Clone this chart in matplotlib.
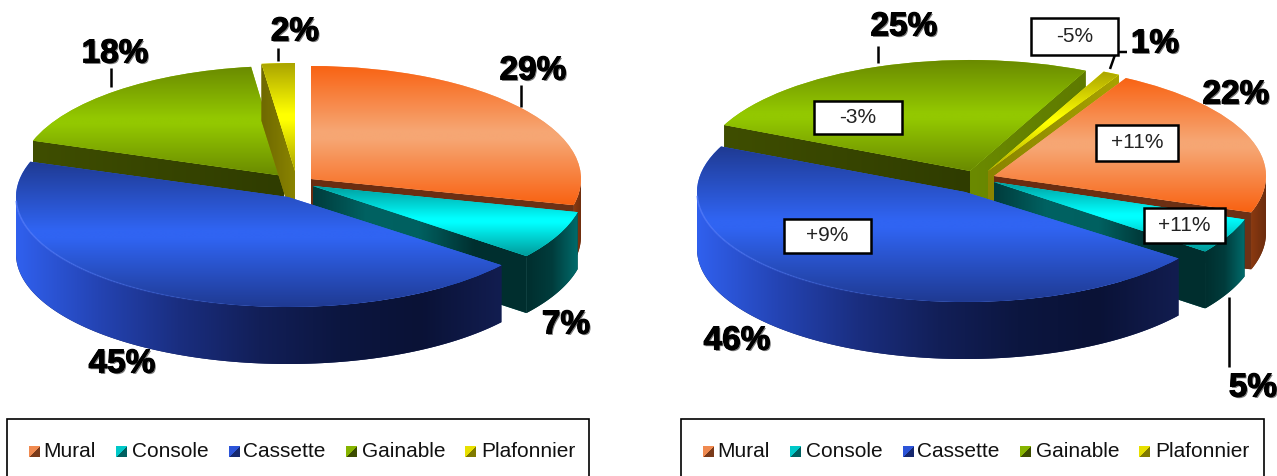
import numpy as np
import matplotlib
matplotlib.use('Agg')
import matplotlib.pyplot as plt
import matplotlib.patheffects as pe
from matplotlib.collections import LineCollection
from matplotlib.colors import LinearSegmentedColormap, to_rgb
from matplotlib.patches import Polygon, Rectangle
from matplotlib.transforms import Affine2D

plt.rcParams['font.family'] = ['Liberation Sans', 'DejaVu Sans']

categories = ['Mural', 'Console', 'Cassette', 'Gainable', 'Plafonnier']
values_left = [29, 7, 45, 18, 2]
values_right = [22, 5, 46, 25, 1]
deltas_right = ['+11%', '+11%', '+9%', '-3%', '-5%']

# top face: edge colour, bright colour
top_colors = [('#f96212', '#f6a673'), ('#009a9a', '#00ffff'), ('#1f3a92', '#3064f2'),
              ('#6a8a00', '#93c800'), ('#aaa400', '#ffff00')]
swatch_colors = [('#f08a50', '#7a3a1a'), ('#00c8c8', '#006060'), ('#2c54d8', '#16286e'),
                 ('#86b400', '#3c4c00'), ('#e8e000', '#807a00')]

DEPTH = 57

# per slice: apex x, apex y, radius x, radius y
geom_left = [(311, 180, 270, 113), (313, 187, 272, 113), (288, 198, 272, 110),
             (284, 177, 265, 110), (295, 172, 270, 108)]
geom_right = [(994, 177, 272, 112), (994, 183, 265, 115), (965, 193, 268, 110),
              (970, 172, 270, 111), (988, 172, 270, 110)]

fig = plt.figure(figsize=(12.77, 4.77), dpi=100)
ax = fig.add_axes([0, 0, 1, 1])


def grad(path_artist, extent, stops, horizontal, z):
    # gradient image clipped to a patch
    cmap = LinearSegmentedColormap.from_list('g', stops)
    arr = np.linspace(0, 1, 256)
    arr = arr.reshape(1, -1) if horizontal else arr.reshape(-1, 1)
    im = ax.imshow(arr, cmap=cmap, extent=extent, aspect='auto', origin='upper',
                   interpolation='bilinear', zorder=z)
    im.set_clip_path(path_artist)
    return im


def wall(points, stops, z):
    # side face: gradient runs left to right over the polygon
    points = np.array(points)
    poly = Polygon(points, closed=True, facecolor=stops[len(stops) // 2][1], edgecolor='none', zorder=z)
    ax.add_patch(poly)
    xmin, xmax = points[:, 0].min(), points[:, 0].max()
    grad(poly, (xmin, xmax, points[:, 1].max(), points[:, 1].min()), stops, True, z + 0.1)


def stops_hex(colors):
    return [(i / (len(colors) - 1), c) for i, c in enumerate(colors)]


def rim_pt(g, th):
    return g[0] + g[2] * np.cos(np.radians(th)), g[1] - g[3] * np.sin(np.radians(th))


# colours of the side faces, per slice
# wall_end: straight edge at the end of the slice going clockwise, wall_start: at its start
wall_end = [['#6b2c10', '#6e3216'], ['#003c3c', '#006262', '#006060', '#003030', '#002e2e'],
            ['#14225c', '#14225c'], ['#6b8a00', '#5e7a00'], ['#8a8400', '#a8a200']]
wall_start = [['#6b2c10', '#6e3216'], ['#003c3c', '#003c3c'], ['#14225c', '#14225c'],
              ['#3f4e00', '#2f3c00'], ['#6e6800', '#8a8400']]
rim_walls = [['#8a3a10', '#6c2c0e'], ['#002e2e', '#003c3c', '#006c6c'],
             ['#3060ee', '#2444b4', '#1a2e80', '#121f58', '#0c1640', '#0a1236', '#121d50'],
             ['#4c5c00', '#4c5c00'], ['#8a8400', '#8a8400']]


def draw_pie(values, geom, start):
    wedges, _ = ax.pie(values, startangle=start, counterclock=False, radius=1,
                       colors=[c[1] for c in top_colors])
    # back slices first so the front ones sit on top of them
    order = [3, 4, 0, 1, 2]
    for n, i in enumerate(order):
        w = wedges[i]
        g = geom[i]
        z = 2 + n * 2
        # faces along the two straight edges, skipped when turned away from the viewer
        if np.cos(np.radians(w.theta2)) < 0:
            px, py = rim_pt(g, w.theta2)
            wall([(g[0], g[1]), (px, py), (px, py + DEPTH), (g[0], g[1] + DEPTH)],
                 stops_hex(wall_start[i]), z)
        if np.cos(np.radians(w.theta1)) > 0:
            px, py = rim_pt(g, w.theta1)
            wall([(g[0], g[1]), (px, py), (px, py + DEPTH), (g[0], g[1] + DEPTH)],
                 stops_hex(wall_end[i]), z + 0.2)
        # curved face, only the part turned to the viewer
        ths = np.linspace(w.theta1, w.theta2, 120)
        ths = ths[np.sin(np.radians(ths)) <= 0.02]
        if len(ths) > 1:
            xs, ys = rim_pt(g, ths)
            pts = list(zip(xs, ys)) + list(zip(xs[::-1], ys[::-1] + DEPTH))
            wall(pts, stops_hex(rim_walls[i]), z + 0.5)
        # top face
        w.set_transform(Affine2D().scale(g[2], -g[3]).translate(g[0], g[1]) + ax.transData)
        w.set_zorder(z + 1)
        box = w.get_path().get_extents(Affine2D().scale(g[2], -g[3]).translate(g[0], g[1]))
        c0, c1 = top_colors[i]
        grad(w, (box.x0, box.x1, box.y1, box.y0),
             [(0, c0), (0.47, c1), (0.53, c1), (1, c0)], False, z + 1.1)
        if i == 2:
            # light line along the front edge of the blue top, fading to the right
            t = np.linspace(182, 262, 40)
            xs, ys = rim_pt(g, t)
            segs = [[(xs[k], ys[k]), (xs[k + 1], ys[k + 1])] for k in range(len(t) - 1)]
            alphas = np.linspace(0.7, 0, len(segs))
            rgba = [(0.35, 0.5, 1, al) for al in alphas]
            ax.add_collection(LineCollection(segs, colors=rgba, linewidths=1.2, zorder=z + 1.2))
    return wedges


draw_pie(values_left, geom_left, 90)
draw_pie(values_right, geom_right, 61)


# big percent labels
def big_label(x, y, s):
    ax.text(x, y + 3, s, fontsize=24, fontweight='bold', color='black', ha='center', va='center', zorder=30,
            path_effects=[pe.withSimplePatchShadow(offset=(1, -1), shadow_rgbFace='#444444', alpha=0.7),
                          pe.withStroke(linewidth=0.8, foreground='black')])


pos_left = [(533, 69), (566, 323), (122, 362), (115, 52), (295, 30)]
pos_right = [(1236, 93), (1253, 386), (737, 339), (904, 25), (1155, 42)]
for v, p in zip(values_left, pos_left):
    big_label(p[0], p[1], '%d%%' % v)
for v, p in zip(values_right, pos_right):
    big_label(p[0], p[1], '%d%%' % v)

# leader lines
leaders = [([521, 521], [86, 108]), ([111, 111], [69, 88]), ([278, 278], [49, 62]),
           ([878, 878], [47, 64]), ([1127, 1116, 1110], [53, 53, 70]), ([1229, 1229], [298, 368])]
for lx, ly in leaders:
    ax.plot(lx, ly, color='black', lw=1.8, zorder=25, solid_capstyle='butt')

# boxes with the change in points
delta_boxes = [(1096, 126, 1178, 162), (1144, 209, 1225, 244), (784, 220, 871, 254),
               (814, 102, 902, 135), (1031, 19, 1118, 56)]
for s, b in zip(deltas_right, delta_boxes):
    ax.add_patch(Rectangle((b[0], b[1]), b[2] - b[0], b[3] - b[1], facecolor='white',
                           edgecolor='black', lw=1.8, zorder=26))
    ax.text((b[0] + b[2]) / 2, (b[1] + b[3]) / 2 - 1, s, fontsize=15, color='#222222',
            ha='center', va='center', zorder=27)

# legends, drawn by hand because the frame runs off the bottom of the image
swatch_x = [29, 115.5, 229, 346, 465]
text_x = [43, 132, 243, 362, 481]
for off, (x0, x1) in zip((0, 674), ((7, 589), (681, 1264))):
    ax.add_patch(Rectangle((x0, 420), x1 - x0, 80, facecolor='white', edgecolor='black', lw=1.2, zorder=1))
    for name, sx, tx, sw in zip(categories, swatch_x, text_x, swatch_colors):
        c0 = np.array(to_rgb(sw[0]))
        c1 = np.array(to_rgb(sw[1]))
        yy, xx = np.mgrid[0:11, 0:11]
        mask = (xx + yy > 10)[..., None]
        ax.imshow(np.where(mask, c1, c0), extent=(sx + off, sx + off + 11, 458, 447), aspect='auto',
                  interpolation='nearest', zorder=3)
        ax.text(tx + off, 452, name, fontsize=15, color='#111111', ha='left', va='center', zorder=3)

ax.set_aspect('auto')
ax.set_xlim(0, 1277)
ax.set_ylim(477, 0)
ax.axis('off')

fig.savefig('out.png', dpi=100, facecolor='white')
